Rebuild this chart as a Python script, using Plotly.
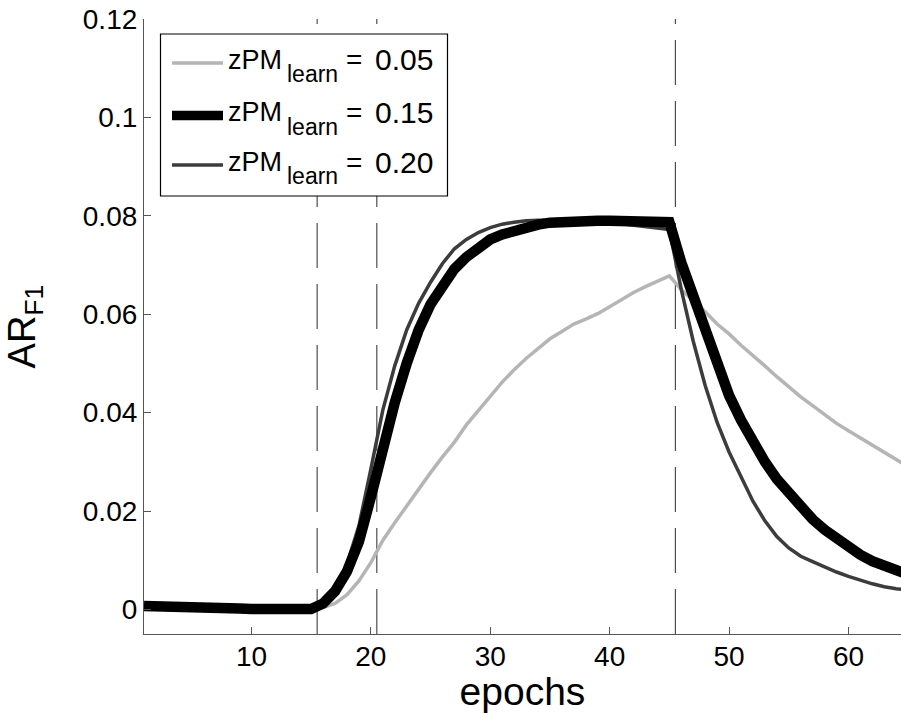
import plotly.graph_objects as go

# Training epochs and the AR_F1 trajectories for three zPM_learn settings
epochs = list(range(1, 66))

ar_f1_005 = [
    0.0007, 0.0007, 0.0007, 0.0006, 0.0004, 0.0003, 0.0003, 0.0003, 0.0002, 0.0001,
    0.0001, 0.0001, 0.0001, 0.0001, 0.0001, 0.0004, 0.0012, 0.0030, 0.0058, 0.0095,
    0.0140, 0.0176, 0.0210, 0.0246, 0.0278, 0.0310, 0.0340, 0.0375, 0.0404, 0.0433,
    0.0462, 0.0487, 0.0510, 0.0530, 0.0550, 0.0565, 0.0580, 0.0590, 0.0601, 0.0615,
    0.0630, 0.0644, 0.0656, 0.0667, 0.0678, 0.0650, 0.0628, 0.0605, 0.0580, 0.0560,
    0.0537, 0.0517, 0.0495, 0.0473, 0.0452, 0.0432, 0.0414, 0.0396, 0.0378, 0.0363,
    0.0348, 0.0334, 0.0320, 0.0305, 0.0290,
]

ar_f1_015 = [
    0.0007, 0.0007, 0.0007, 0.0006, 0.0004, 0.0003, 0.0003, 0.0003, 0.0002, 0.0001,
    0.0001, 0.0001, 0.0001, 0.0001, 0.0001, 0.0012, 0.0037, 0.0077, 0.0138, 0.0228,
    0.0330, 0.0420, 0.0500, 0.0568, 0.0620, 0.0660, 0.0692, 0.0716, 0.0735, 0.0752,
    0.0762, 0.0770, 0.0777, 0.0782, 0.0786, 0.0788, 0.0789, 0.0790, 0.0790, 0.0790,
    0.0790, 0.0790, 0.0789, 0.0788, 0.0787, 0.0705, 0.0635, 0.0565, 0.0490, 0.0435,
    0.0385, 0.0340, 0.0300, 0.0265, 0.0235, 0.0207, 0.0183, 0.0162, 0.0143, 0.0126,
    0.0111, 0.0098, 0.0088, 0.0079, 0.0071,
]

ar_f1_020 = [
    0.0007, 0.0007, 0.0007, 0.0006, 0.0004, 0.0003, 0.0003, 0.0003, 0.0002, 0.0001,
    0.0001, 0.0001, 0.0001, 0.0001, 0.0001, 0.0013, 0.0042, 0.0092, 0.0170, 0.0285,
    0.0405, 0.0495, 0.0568, 0.0622, 0.0665, 0.0703, 0.0733, 0.0752, 0.0766, 0.0776,
    0.0783, 0.0787, 0.0790, 0.0791, 0.0791, 0.0790, 0.0790, 0.0789, 0.0788, 0.0786,
    0.0784, 0.0781, 0.0778, 0.0775, 0.0772, 0.0650, 0.0545, 0.0455, 0.0380, 0.0320,
    0.0268, 0.0220, 0.0180, 0.0148, 0.0125, 0.0108, 0.0097, 0.0086, 0.0076, 0.0067,
    0.0059, 0.0052, 0.0046, 0.0042, 0.0040,
]

param_name = "zPM"
param_sub = "learn"
param_values = ["0.05", "0.15", "0.20"]

# Epoch boundaries between training phases (dashed markers)
phase_bounds = [15.5, 20.5, 45.5]

x_tickvals = [10, 20, 30, 40, 50, 60]
y_tickvals = [0, 0.02, 0.04, 0.06, 0.08, 0.10, 0.12]
y_ticktext = ["0", "0.02", "0.04", "0.06", "0.08", "0.1", "0.12"]

FONT = "Liberation Sans, Arial, Helvetica, sans-serif"
W, H = 901, 713
M_L, M_R, M_T, M_B = 144, 0, 19, 79
PW, PH = W - M_L - M_R, H - M_T - M_B

styles = [
    dict(color="#b5b5b5", width=3.5),   # 0.05
    dict(color="#000000", width=10.5),  # 0.15
    dict(color="#3c3c3c", width=3.5),   # 0.20
]
series = [ar_f1_005, ar_f1_015, ar_f1_020]

fig = go.Figure()
# light grey first, then dark grey, black on top
for idx in (0, 2, 1):
    fig.add_trace(go.Scatter(
        x=epochs, y=series[idx], mode="lines",
        line=dict(color=styles[idx]["color"], width=styles[idx]["width"]),
        name=f"{param_name}<sub>{param_sub}</sub> = {param_values[idx]}",
        showlegend=False, hoverinfo="skip",
    ))

# dashed phase boundaries, drawn bottom-up from the axis line
for xb in phase_bounds:
    fig.add_shape(type="line", xref="x", yref="y", x0=xb, x1=xb, y0=-0.005, y1=0.12,
                  line=dict(color="#2a2a2a", width=1, dash="45px,16px"), layer="below")


def px_x(p):
    return (p - M_L) / PW


def px_y(p):
    return (H - M_B - p) / PH


# boxed legend in the upper-left corner
fig.add_shape(type="rect", xref="paper", yref="paper",
              x0=px_x(160.5), x1=px_x(447.5), y0=px_y(196), y1=px_y(34),
              line=dict(color="#000000", width=1.2), fillcolor="white", layer="above")
rows_py = [63, 115.5, 165]
for i, row in enumerate(rows_py):
    fig.add_shape(type="line", xref="paper", yref="paper",
                  x0=px_x(172), x1=px_x(223), y0=px_y(row), y1=px_y(row),
                  line=dict(color=styles[i]["color"], width=min(styles[i]["width"], 9.5)),
                  layer="above")
    fig.add_annotation(xref="paper", yref="paper", x=px_x(226), y=px_y(row - 3),
                       xanchor="left", yanchor="middle", showarrow=False,
                       text=param_name, font=dict(family=FONT, size=27, color="black"))
    fig.add_annotation(xref="paper", yref="paper", x=px_x(285), y=px_y(row + 11),
                       xanchor="left", yanchor="middle", showarrow=False,
                       text=param_sub, font=dict(family=FONT, size=23, color="black"))
    fig.add_annotation(xref="paper", yref="paper", x=px_x(353.5), y=px_y(row - 3),
                       xanchor="center", yanchor="middle", showarrow=False,
                       text="=", font=dict(family=FONT, size=28, color="black"))
    fig.add_annotation(xref="paper", yref="paper", x=px_x(404), y=px_y(row - 3),
                       xanchor="center", yanchor="middle", showarrow=False,
                       text=param_values[i], font=dict(family=FONT, size=30, color="black"))

axis_common = dict(
    showline=True, linecolor="#555555", linewidth=1.2, mirror=False,
    ticks="inside", ticklen=7, tickcolor="#555555", tickwidth=1,
    showgrid=False, zeroline=False,
    tickfont=dict(family=FONT, size=28, color="black"),
)

fig.update_layout(
    width=W, height=H,
    margin=dict(l=M_L, r=M_R, t=M_T, b=M_B, pad=0),
    paper_bgcolor="white", plot_bgcolor="white",
    showlegend=False,
    xaxis=dict(range=[1, 64.4], tickvals=x_tickvals, ticklabelstandoff=-3,
               title=dict(text="epochs", font=dict(family=FONT, size=39, color="black"), standoff=4),
               **axis_common),
    yaxis=dict(range=[-0.005, 0.12], tickvals=y_tickvals, ticktext=y_ticktext,
               title=dict(text="AR<sub>F1</sub>", font=dict(family=FONT, size=38, color="black"), standoff=35),
               **axis_common),
)

fig.write_html("out.html")
